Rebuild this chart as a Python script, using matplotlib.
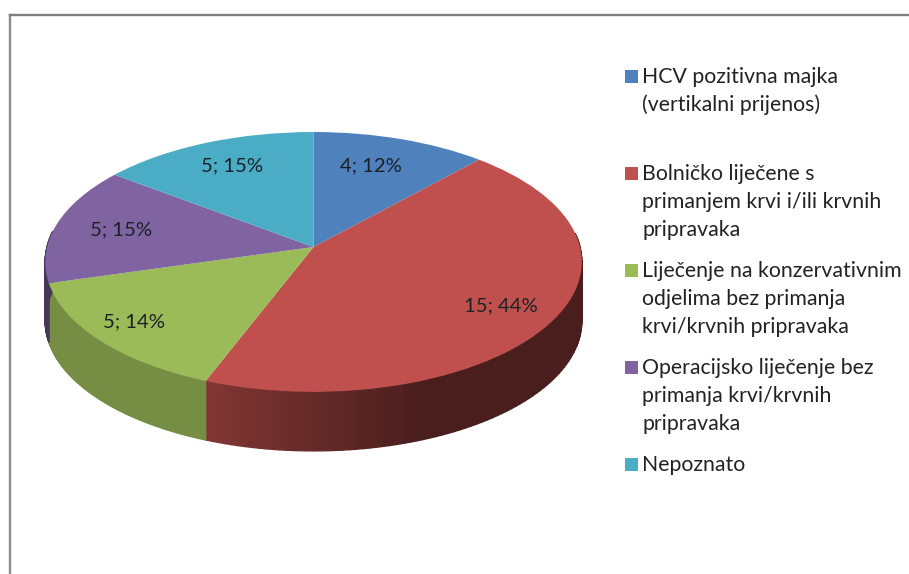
import numpy as np
import matplotlib
matplotlib.use("Agg")
import matplotlib.pyplot as plt
from matplotlib.transforms import Transform
from matplotlib.patches import Rectangle
from matplotlib.lines import Line2D
from matplotlib.colors import to_rgb

# --- data
categories = [["HCV pozitivna majka", "(vertikalni prijenos)"],
              ["Bolničko liječene s", "primanjem krvi i/ili krvnih", "pripravaka"],
              ["Liječenje na konzervativnim", "odjelima bez primanja", "krvi/krvnih pripravaka"],
              ["Operacijsko liječenje bez", "primanja krvi/krvnih", "pripravaka"],
              ["Nepoznato"]]
counts = [4, 15, 5, 5, 5]
percents = [12, 44, 14, 15, 15]
colors = ["#4f81bd", "#c0504d", "#9bbb59", "#8064a2", "#4bacc6"]

# --- layout (pixels of the reference)
W, H = 909, 574
CX, CY = 313.5, 247
K = 0.115
AY, BX = 128.2, 266.5
DEPTH = 59
label_xy = [(371, 166), (501, 306), (134, 322), (121, 230), (232, 166)]
legend_box_y = [76, 173, 270, 367, 464]
LEG_SQ_X, LEG_TX, LINE_PITCH = 625, 642, 28

plt.rcParams["font.family"] = ["Lato", "DejaVu Sans"]
fig = plt.figure(figsize=(W / 100, H / 100), dpi=100)
ax = fig.add_axes([0, 0, 1, 1])


class Projection(Transform):
    input_dims = output_dims = 2

    def transform_non_affine(self, v):
        v = np.asarray(v, float)
        d = 1 + K * v[:, 1]
        return np.column_stack([CX + BX * v[:, 0] / d, CY - AY * v[:, 1] / d])


proj = Projection()
wedges, _ = ax.pie(counts, colors=colors, startangle=90, counterclock=False,
                   radius=1, wedgeprops=dict(linewidth=0))
ax.set_aspect("auto")
ax.set_xlim(0, W)
ax.set_ylim(H, 0)
ax.axis("off")

fractions = np.cumsum([0] + counts) / sum(counts)
for i, w in enumerate(wedges):
    w.set_transform(proj + ax.transData)
    w.set_zorder(5)
    a0 = 90 - 360 * fractions[i]
    a1 = 90 - 360 * fractions[i + 1]
    th = np.radians(np.linspace(a0, a1, 120))
    rim = proj.transform_non_affine(np.column_stack([np.cos(th), np.sin(th)]))
    base = np.array(to_rgb(colors[i]))
    for j in range(len(th) - 1):
        if np.sin(th[j]) >= 0.12:
            continue
        xs = [rim[j, 0], rim[j + 1, 0], rim[j + 1, 0], rim[j, 0]]
        ys = [rim[j, 1], rim[j + 1, 1], rim[j + 1, 1] + DEPTH, rim[j, 1] + DEPTH]
        if i == 1:
            shade = base * (0.68 - 0.30 * np.clip((rim[j, 0] - 205) / 220, 0, 1))
        elif i == 3:
            shade = base * 0.55
        else:
            shade = base * 0.76
        ax.fill(xs, ys, facecolor=tuple(shade), edgecolor=tuple(shade), lw=1.0, zorder=2)

for (x, y), n, p in zip(label_xy, counts, percents):
    ax.text(x, y, f"{n}; {p}%", ha="center", va="center", fontsize=14.6,
            color="#1a2228", zorder=6)

for i, lines in enumerate(categories):
    ax.add_patch(Rectangle((LEG_SQ_X, legend_box_y[i] - 6.5), 12.5, 13, color=colors[i], lw=0))
    for k, line in enumerate(lines):
        ax.text(LEG_TX, legend_box_y[i] + 7 + k * LINE_PITCH, line, ha="left", va="baseline",
                fontsize=15.3, color="#222222")

ax.add_line(Line2D([9.5, 9.5], [574, 15], color="#8c8c8c", lw=1.7))
ax.add_line(Line2D([9.5, 909], [15, 15], color="#7d7d7d", lw=1.7))

fig.savefig("out.png", dpi=100, facecolor="white")
